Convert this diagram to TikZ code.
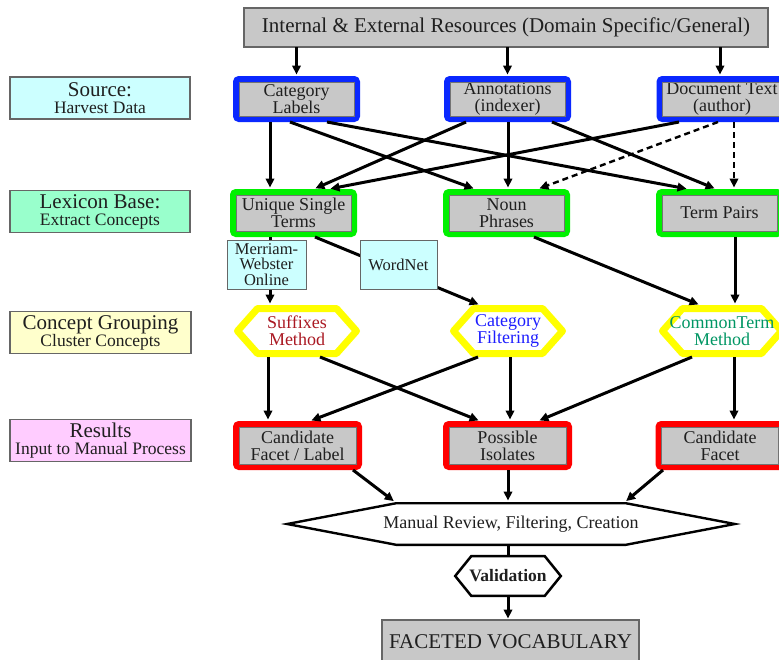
\documentclass[tikz,border=0pt]{standalone}
\usepackage{fontspec}
\setmainfont{Liberation Serif}
\usetikzlibrary{arrows.meta}
\definecolor{boxgray}{RGB}{200,200,200}
\definecolor{srcblue}{RGB}{10,40,255}
\definecolor{lexgreen}{RGB}{0,240,0}
\definecolor{hexyellow}{RGB}{255,255,0}
\definecolor{resred}{RGB}{255,0,0}
\definecolor{lcyan}{RGB}{204,255,255}
\definecolor{lmint}{RGB}{153,255,204}
\definecolor{lyellow}{RGB}{255,255,204}
\definecolor{lpink}{RGB}{255,204,255}
\definecolor{sufred}{RGB}{170,25,35}
\definecolor{catblue}{RGB}{30,30,255}
\definecolor{comgreen}{RGB}{0,150,100}
\newcommand\myhex[5]{(#1-#3,#2) -- (#1-#3+#5,#2-#4) -- (#1+#3-#5,#2-#4) -- (#1+#3,#2) -- (#1+#3-#5,#2+#4) -- (#1-#3+#5,#2+#4) -- cycle}
\begin{document}
\begin{tikzpicture}[x=1pt,y=-1pt,
 every node/.style={inner sep=0pt,outer sep=0pt,align=center,text=black!88},
 bf/.style={font=\fontsize{18}{17}\selectfont},
 framed/.style={bf, draw=#1, fill=boxgray, line width=6pt, rounded corners=3pt, minimum width=121pt, minimum height=40pt, outer sep=3pt},
 lab/.style={draw=black!60, line width=1.2pt, fill=#1, minimum width=180pt, minimum height=42pt, font=\fontsize{17.5}{17}\selectfont},
 refbox/.style={draw=black!60, line width=1pt, fill=lcyan, minimum width=79pt, minimum height=49pt, font=\fontsize{16.5}{15.5}\selectfont},
 hexnode/.style={bf, minimum height=52pt},
 hexline/.style={draw=hexyellow, line width=7pt, line join=round},
 arr/.style={line width=3pt, shorten >=1.5pt, -{Triangle[length=9pt,width=8.5pt]}},
 dsh/.style={arr, line width=2.4pt, dash pattern=on 6pt off 4pt},
 link/.style={line width=3pt}
]
\useasboundingbox (0,0) rectangle (779,659);
\clip (0,0) rectangle (779,659);
\fill[white] (0,0) rectangle (779,659);

% left labels
\node[lab=lcyan] (l1) at (100,98) {{\fontsize{21}{17}\selectfont Source:}\\Harvest Data};
\node[lab=lmint] (l2) at (100,211.5) {{\fontsize{21}{17}\selectfont Lexicon Base:}\\Extract Concepts};
\node[lab=lyellow, minimum width=181pt] (l3) at (100.5,332.5) {{\fontsize{21}{17}\selectfont Concept Grouping}\\Cluster Concepts};
\node[lab=lpink, minimum width=181pt] (l4) at (100.5,440.5) {{\fontsize{21}{17}\selectfont Results}\\Input to Manual Process};

% top
\node[draw=black!60, line width=1.5pt, fill=boxgray, minimum width=524pt, minimum height=39pt, font=\fontsize{21}{21}\selectfont] (top) at (506,27.5) {Internal \& External Resources (Domain Specific/General)};

% source row
\node[framed=srcblue] (cl) at (296.5,99) {Category\\Labels};
\node[framed=srcblue] (an) at (507.5,99) {Annotations\\(indexer)};
\node[framed=srcblue, minimum width=125pt] (dt) at (722,99) {Document Text\\(author)};
% lexicon row
\node[framed=lexgreen, minimum height=42pt] (ust) at (293.5,213) {Unique Single\\Terms};
\node[framed=lexgreen, minimum height=42pt] (np) at (506.5,213) {Noun\\Phrases};
\node[framed=lexgreen, minimum height=42pt] (tp) at (719.5,213) {Term Pairs};
% results row
\node[framed=resred, minimum height=43pt, minimum width=123pt] (rfl) at (297.5,445.5) {Candidate\\Facet / Label};
\node[framed=resred, minimum height=43pt, minimum width=123pt] (pi) at (507.5,445.5) {Possible\\Isolates};
\node[framed=resred, minimum height=43pt, minimum width=123pt] (cf) at (720,445.5) {Candidate\\Facet};
\foreach \n in {cl,an,dt,ust,np,tp,rfl,pi,cf}
  \draw[black!55, line width=0.8pt] ([shift={(6pt,-6pt)}]\n.north west) rectangle ([shift={(-6pt,6pt)}]\n.south east);

% concept grouping hexagons
\draw[hexline] \myhex{297}{331}{59.5}{22.5}{20};
\draw[hexline] \myhex{508}{331}{54.5}{22.5}{20};
\draw[hexline] \myhex{722}{331}{59.5}{22.5}{20};
\node[hexnode, minimum width=126pt, text=sufred] (suf) at (297,331) {Suffixes\\Method};
\node[hexnode, minimum width=116pt, text=catblue] (cat) at (508,331) {Category\\Filtering};
\node[hexnode, minimum width=126pt, text=comgreen] (com) at (722,331) {CommonTerm\\Method};

% manual review, validation, result
\draw[black, line width=2.4pt] \myhex{511}{524}{223.8}{20.8}{109};
\node[minimum width=450pt, minimum height=44pt, font=\fontsize{18}{18}\selectfont] (mr) at (511,524) {Manual Review, Filtering, Creation};
\draw[black, line width=2.5pt] \myhex{508}{576}{52.8}{19.8}{16};
\node[minimum width=108pt, minimum height=42pt, font=\fontsize{17.5}{17}\selectfont\bfseries] (val) at (508,576) {Validation};
\node[draw=black!60, line width=1.5pt, fill=boxgray, minimum width=257pt, minimum height=44pt, font=\fontsize{21}{21}\selectfont] (fv) at (510.5,642) {FACETED VOCABULARY};

% connectors: resources -> sources
\draw[arr] (top.south -| cl) -- (cl.north);
\draw[arr] (top.south -| an) -- (an.north);
\draw[arr] ([xshift=-2pt]top.south -| dt) -- ([xshift=-2pt]dt.north);
% sources -> lexicon
\draw[arr] ([xshift=-26.5pt]cl.south) -- ([xshift=-23.5pt]ust.north);
\draw[arr] ([xshift=-6.5pt]cl.south) -- ([xshift=-31.5pt]np.north);
\draw[arr] ([xshift=30.5pt]cl.south) -- ([xshift=-31.5pt]tp.north);
\draw[arr] ([xshift=-41.5pt]an.south) -- ([xshift=20.5pt]ust.north);
\draw[arr] ([xshift=0.5pt]an.south) -- ([xshift=1.5pt]np.north);
\draw[arr] ([xshift=44.5pt]an.south) -- ([xshift=-3.5pt]tp.north);
\draw[arr] ([xshift=-43pt]dt.south) -- ([xshift=35.5pt]ust.north);
\draw[dsh] ([xshift=-4pt]dt.south) -- ([xshift=31.5pt]np.north);
\draw[dsh] ([xshift=12pt]dt.south) -- ([xshift=14.5pt]tp.north);
% lexicon -> grouping
\draw[arr] ([xshift=-23.5pt]ust.south) -- ([xshift=-27pt]suf.north);
\draw[arr] ([xshift=21.5pt]ust.south) -- ([xshift=-28pt]cat.north);
\draw[arr] ([xshift=27.5pt]np.south) -- ([xshift=-22pt]com.north);
\draw[arr] ([xshift=15.5pt]tp.south) -- ([xshift=13pt]com.north);
% grouping -> results
\draw[arr] ([xshift=-29pt]suf.south) -- ([xshift=-29.5pt]rfl.north);
\draw[arr] ([xshift=23pt]suf.south) -- ([xshift=-27.5pt]pi.north);
\draw[arr] ([xshift=-30pt]cat.south) -- ([xshift=12.5pt]rfl.north);
\draw[arr] ([xshift=2pt]cat.south) -- ([xshift=2.5pt]pi.north);
\draw[arr] ([xshift=-30pt]com.south) -- ([xshift=30.5pt]pi.north);
\draw[arr] ([xshift=12pt]com.south) -- ([xshift=14pt]cf.north);
% results -> manual review -> validation -> vocabulary
\draw[arr] ([xshift=55.5pt]rfl.south) -- ([xshift=-116pt]mr.north);
\draw[arr] ([xshift=0.5pt]pi.south) -- ([xshift=-3pt]mr.north);
\draw[arr] ([xshift=-57pt]cf.south) -- ([xshift=114pt]mr.north);
\draw[link] ([xshift=-3pt]mr.south) -- (val.north);
\draw[arr] (val.south) -- ([xshift=-2.5pt]fv.north);

% lexical resources drawn over the lines that pass behind them
\node[refbox] (mw) at (266.5,264.5) {Merriam-\\Webster\\Online};
\node[refbox, minimum width=77pt] (wn) at (398.5,264.5) {WordNet};
\end{tikzpicture}
\end{document}
